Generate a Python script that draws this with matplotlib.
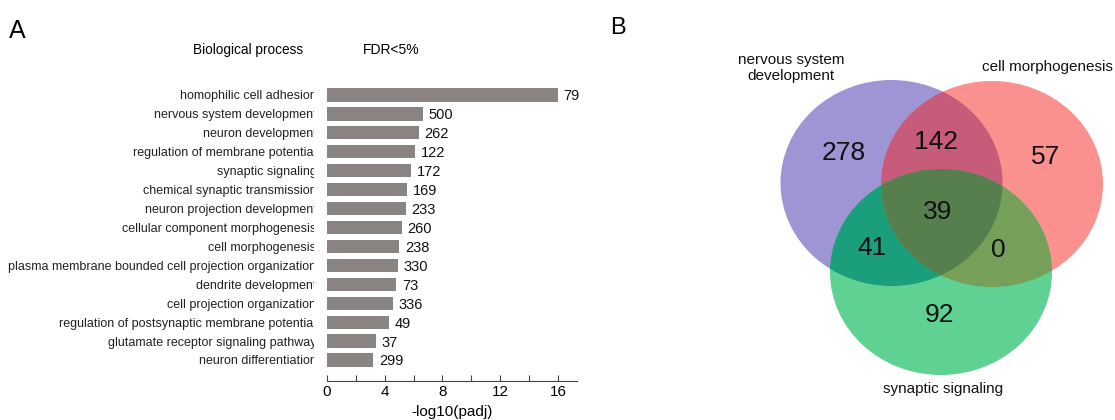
import numpy as np
import matplotlib
matplotlib.use("Agg")
import matplotlib.pyplot as plt
from matplotlib.patches import Ellipse, Polygon
from matplotlib.transforms import Bbox, TransformedBbox

plt.rcParams['font.family'] = ['Liberation Sans', 'DejaVu Sans']

# panel A data (GO biological process, FDR<5%)
terms = ["homophilic cell adhesion", "nervous system development", "neuron development",
         "regulation of membrane potential", "synaptic signaling", "chemical synaptic transmission",
         "neuron projection development", "cellular component morphogenesis", "cell morphogenesis",
         "plasma membrane bounded cell projection organization", "dendrite development",
         "cell projection organization", "regulation of postsynaptic membrane potential",
         "glutamate receptor signaling pathway", "neuron differentiation"]
log_padj = [16.0, 6.63, 6.36, 6.10, 5.83, 5.57, 5.48, 5.21, 5.02, 4.91, 4.81, 4.56, 4.33, 3.43, 3.22]
gene_counts = [79, 500, 262, 122, 172, 169, 233, 260, 238, 330, 73, 336, 49, 37, 299]

# panel B data (venn)
set_names = ["nervous system\ndevelopment", "cell morphogenesis", "synaptic signaling"]
venn_regions = ["100", "010", "110", "001", "101", "011", "111"]
venn_counts = [278, 57, 142, 92, 41, 0, 39]

# venn layout (figure pixels)
circle_centers = [(891.5, 183), (992, 184), (941, 272)]
circle_w, circle_h = 222, 206
region_colors = {"100": "#9e95d5", "010": "#fa918f", "001": "#5fd193",
                 "110": "#c65b7a", "101": "#1a9e7b", "011": "#769f5a", "111": "#567f4d"}
region_pos = {"100": (844, 153), "010": (1046, 157), "110": (936, 142), "001": (939, 315),
              "101": (872, 248), "011": (998, 250), "111": (938, 212)}
name_pos = [(791, 68), (1047, 67), (943, 389)]

fig = plt.figure(figsize=(11.15, 4.2), dpi=100)

# ---- panel A ----
ax = fig.add_axes([326.7 / 1115, 1 - 381 / 420, 250 / 1115, 297.4 / 420])
y = np.arange(len(terms))
ax.barh(y, log_padj, height=0.7, color='#898381')
ax.set_ylim(len(terms) - 1 + 1.11, -0.6)
ax.set_xlim(0, 17.28)
for s in ['top', 'right', 'left']:
    ax.spines[s].set_visible(False)
ax.spines['bottom'].set_color('#444444')
ax.spines['bottom'].set_linewidth(0.8)
ticks = np.arange(0, 17, 2)
ax.set_xticks(ticks)
ax.set_xticklabels([str(t) if t % 4 == 0 else '' for t in ticks])
ax.tick_params(axis='x', direction='in', length=4, width=0.8, color='#444444',
               labelsize=11, pad=3)
ax.set_yticks([])
ax.set_xlabel("-log10(padj)", fontsize=11, labelpad=4.5)

clip = TransformedBbox(Bbox([[0, 0], [3.14, 4.2]]), fig.dpi_scale_trans)
for i, t in enumerate(terms):
    txt = ax.text(-(326.7 - 316.5) / 250, i, t, transform=ax.get_yaxis_transform(),
                  ha='right', va='center_baseline', fontsize=9, color='#222222', clip_on=True)
    txt.set_clip_path(None)
    txt.set_clip_box(clip)

for i, (v, c) in enumerate(zip(log_padj, gene_counts)):
    ax.annotate(str(c), (v, i), xytext=(4, 0), textcoords='offset points',
                va='center_baseline', fontsize=10.5, color='#111111')

fig.text(248 / 1115, 1 - 50 / 420, "Biological process", ha='center', va='center', fontsize=9.8)
fig.text(391 / 1115, 1 - 50 / 420, "FDR<5%", ha='center', va='center', fontsize=10)
fig.text(9 / 1115, 1 - 31 / 420, "A", ha='left', va='center', fontsize=18)
fig.text(610 / 1115, 1 - 28 / 420, "B", ha='left', va='center', fontsize=17)

# ---- panel B ----
vax = fig.add_axes([700 / 1115, 0, 415 / 1115, 1])
vax.set_xlim(700, 1115)
vax.set_ylim(420, 0)
vax.axis('off')

codes = ["100", "010", "001"]
circles = []
for c, code in zip(circle_centers, codes):
    e = Ellipse(c, circle_w, circle_h, facecolor=region_colors[code], lw=0)
    vax.add_patch(e)
    circles.append(e)

for a, b, code in [(0, 1, "110"), (0, 2, "101"), (1, 2, "011")]:
    e = Ellipse(circle_centers[b], circle_w, circle_h, facecolor=region_colors[code], lw=0)
    vax.add_patch(e)
    e.set_clip_path(circles[a])


def ellipse_points(c, n=3000):
    th = np.linspace(0, 2 * np.pi, n, endpoint=False)
    return np.column_stack([c[0] + circle_w / 2 * np.cos(th), c[1] + circle_h / 2 * np.sin(th)])


def inside(pts, c):
    return ((pts[:, 0] - c[0]) / (circle_w / 2)) ** 2 + ((pts[:, 1] - c[1]) / (circle_h / 2)) ** 2 <= 1


pts = []
for i, c in enumerate(circle_centers):
    p = ellipse_points(c)
    others = [circle_centers[j] for j in range(3) if j != i]
    pts.append(p[inside(p, others[0]) & inside(p, others[1])])
pts = np.vstack(pts)
m = pts.mean(axis=0)
pts = pts[np.argsort(np.arctan2(pts[:, 1] - m[1], pts[:, 0] - m[0]))]
vax.add_patch(Polygon(pts, closed=True, facecolor=region_colors["111"], lw=0))

for code, n in zip(venn_regions, venn_counts):
    vax.text(*region_pos[code], str(n), ha='center', va='center', fontsize=19, color='#111111')

for (x, yy), name in zip(name_pos, set_names):
    vax.text(x, yy, name, ha='center', va='center', fontsize=11, color='#111111',
             linespacing=1.15)

fig.savefig("out.png", dpi=100)
